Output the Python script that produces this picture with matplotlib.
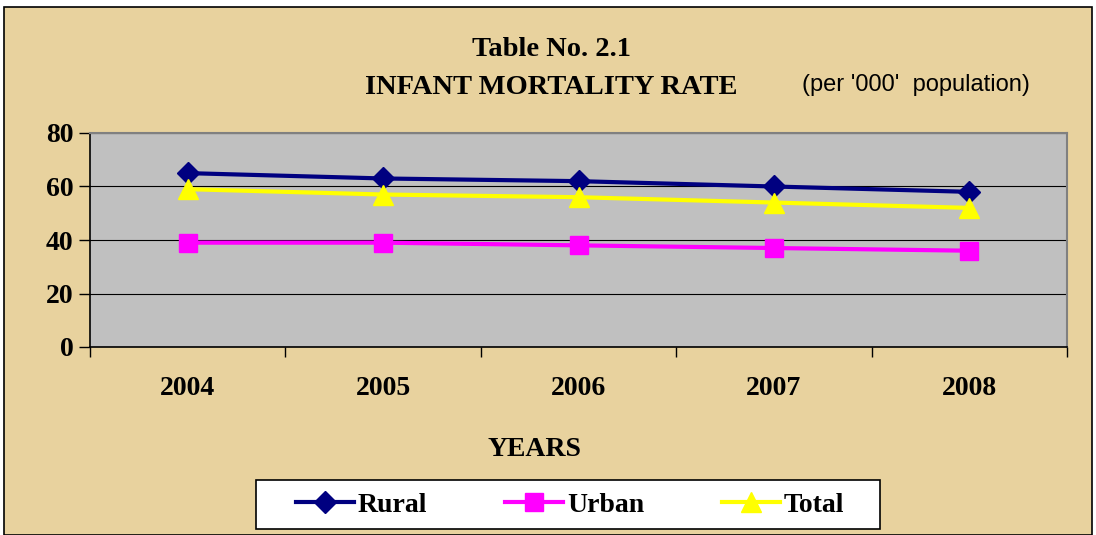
import numpy as np
import matplotlib
matplotlib.use("Agg")
import matplotlib.pyplot as plt
from matplotlib.patches import Rectangle

# data
years = ["2004", "2005", "2006", "2007", "2008"]
rural = [65, 63, 62, 60, 58]
urban = [39, 39, 38, 37, 36]
total = [59, 57, 56, 54, 52]

W, H = 1096, 535
fig = plt.figure(figsize=(W / 100, H / 100), dpi=100)
fig.patch.set_facecolor("white")

# parchment-coloured chart area with black frame
bg = Rectangle((4 / W, 0), (1092 - 4) / W, (H - 7) / H, transform=fig.transFigure,
               facecolor="#E8D29E", edgecolor="black", linewidth=1.2, zorder=-10)
fig.patches.append(bg)

# legend box (white, black border)
legbox = Rectangle((256 / W, 1 - 529 / H), (880 - 256) / W, (529 - 480) / H,
                   transform=fig.transFigure, facecolor="white",
                   edgecolor="black", linewidth=1.2, zorder=-5)
fig.patches.append(legbox)

ax = fig.add_axes([90 / W, 1 - 347 / H, (1067 - 90) / W, (347 - 133) / H])
ax.set_facecolor("#C0C0C0")

x = np.arange(len(years))
ax.plot(x, rural, color="#000080", lw=3, marker="D", ms=11, label="Rural", zorder=3)
ax.plot(x, urban, color="#FF00FF", lw=3, marker="s", ms=13, label="Urban", zorder=3)
ax.plot(x, total, color="#FFFF00", lw=3, marker="^", ms=14, label="Total", zorder=3)

ax.set_xlim(-0.5, len(years) - 0.5)
ax.set_ylim(0, 80)
ax.set_yticks([0, 20, 40, 60, 80])
ax.yaxis.grid(True, color="black", lw=0.8)
ax.set_axisbelow(True)

# category axis: ticks between categories, labels centred
ax.set_xticks(np.arange(-0.5, len(years)), minor=False)
ax.set_xticklabels([])
ax.set_xticks(x, minor=True)
ax.set_xticklabels(years, minor=True)
ax.tick_params(axis="x", which="major", direction="out", length=7, width=1)
ax.tick_params(axis="x", which="minor", length=0, pad=21)
ax.tick_params(axis="y", direction="out", length=8, width=1, pad=4)

serif = "Liberation Serif"
for lab in ax.get_xticklabels(minor=True) + ax.get_yticklabels():
    lab.set_fontfamily(serif)
    lab.set_fontweight("bold")
    lab.set_fontsize(20)

for s in ["top", "right"]:
    ax.spines[s].set_color("#808080")
    ax.spines[s].set_linewidth(1.5)
for s in ["left", "bottom"]:
    ax.spines[s].set_color("black")
    ax.spines[s].set_linewidth(1.2)

fig.text(551 / W, 1 - 49 / H, "Table No. 2.1", ha="center", va="center",
         fontfamily=serif, fontweight="bold", fontsize=20.5)
fig.text(551 / W, 1 - 87 / H, "INFANT MORTALITY RATE", ha="center", va="center",
         fontfamily=serif, fontweight="bold", fontsize=20.5)
fig.text(916 / W, 1 - 85 / H, "(per '000'  population)", ha="center", va="center",
         fontfamily="Liberation Sans", fontsize=17)
fig.text(534 / W, 1 - 449 / H, "YEARS", ha="center", va="center",
         fontfamily=serif, fontweight="bold", fontsize=20)

leg = fig.legend(loc="center", bbox_to_anchor=(570 / W, 1 - 505 / H), ncol=3,
                 frameon=False, prop={"family": serif, "weight": "bold", "size": 20},
                 handlelength=2.1, columnspacing=2.8, handletextpad=0.12,
                 borderpad=0, borderaxespad=0)

fig.savefig("out.png", dpi=100, facecolor=fig.get_facecolor())
